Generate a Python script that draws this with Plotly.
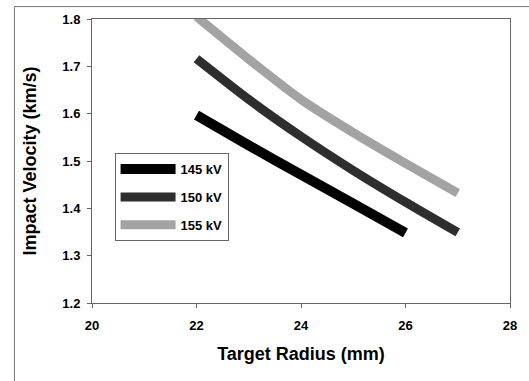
import plotly.graph_objects as go

radius_145 = [22, 23, 24, 25, 26]
velocity_145 = [1.597, 1.533, 1.471, 1.410, 1.348]
radius_150 = [22, 23, 24, 25, 26, 27]
velocity_150 = [1.716, 1.630, 1.552, 1.480, 1.413, 1.349]
radius_155 = [22, 23, 24, 25, 26, 27]
velocity_155 = [1.805, 1.715, 1.630, 1.560, 1.495, 1.432]

series_names = ["145 kV", "150 kV", "155 kV"]
x_ticks = [20, 22, 24, 26, 28]
y_ticks = [1.2, 1.3, 1.4, 1.5, 1.6, 1.7, 1.8]

W, H = 529, 381
L, R, T, B = 92, 14, 17, 78
FONT = "Liberation Sans, Arial, sans-serif"

fig = go.Figure()
for i, (name, xs, ys, color, w) in enumerate([
    (series_names[0], radius_145, velocity_145, "#000000", 10),
    (series_names[1], radius_150, velocity_150, "#2e2e2e", 9),
    (series_names[2], radius_155, velocity_155, "#a3a3a3", 9),
]):
    fig.add_trace(go.Scatter(x=xs, y=ys, mode="lines", name=name, legendgroup=f"g{i}",
                             line=dict(color=color, width=w, shape="spline", smoothing=0.6)))

fig.update_layout(
    width=W, height=H,
    margin=dict(l=L, r=R, t=T, b=B),
    paper_bgcolor="white", plot_bgcolor="white",
    font=dict(family=FONT, color="#000"),
    showlegend=True,
    legend=dict(x=0.054, y=0.528, xanchor="left", yanchor="top",
                bgcolor="white", bordercolor="#666", borderwidth=1,
                font=dict(size=13, family=FONT, color="#000", weight="bold"),
                itemwidth=55, tracegroupgap=8),
    xaxis=dict(range=[20, 28], tickvals=x_ticks, ticktext=[str(v) for v in x_ticks],
               showgrid=False, zeroline=False, showline=True, linecolor="#666", linewidth=1,
               mirror=True, ticks="outside", ticklen=4, tickcolor="#666",
               ticklabelstandoff=6,
               tickfont=dict(size=13, weight="bold"),
               title=dict(text="Target Radius (mm)", font=dict(size=18, weight="bold"), standoff=15)),
    yaxis=dict(range=[1.2, 1.8], tickvals=y_ticks, ticktext=[f"{v:.1f}" for v in y_ticks],
               showgrid=False, zeroline=False, showline=True, linecolor="#666", linewidth=1,
               mirror=True, ticks="outside", ticklen=4, tickcolor="#666",
               ticklabelstandoff=4,
               tickfont=dict(size=13, weight="bold"),
               title=dict(text="Impact Velocity (km/s)", font=dict(size=18, weight="bold"), standoff=21)),
)

pw, ph = W - L - R, H - T - B
fig.add_shape(type="line", xref="paper", yref="paper",
              x0=(13.5 - L) / pw, x1=(13.5 - L) / pw, y0=-(H - T - ph) / ph - 0.05, y1=(H - 4.5 - B) / ph,
              line=dict(color="#777", width=1), layer="above")
fig.add_shape(type="line", xref="paper", yref="paper",
              x0=(13.5 - L) / pw, x1=(W + 10 - L) / pw, y0=(H - 4.5 - B) / ph, y1=(H - 4.5 - B) / ph,
              line=dict(color="#777", width=1), layer="above")

fig.write_html("out.html", config={"displayModeBar": False},
               post_script="document.body.style.margin='0';document.body.style.overflow='hidden';")
